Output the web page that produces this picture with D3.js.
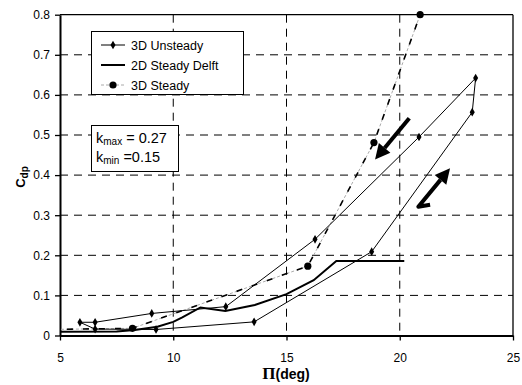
<!DOCTYPE html>
<html><head><meta charset="utf-8">
<script src="https://cdn.jsdelivr.net/npm/d3@7"></script>
<style>
body{margin:0;background:#fff}
svg{display:block;font-family:"Liberation Sans",Arial,sans-serif}
</style>
</head><body>
<svg id="chart" width="522" height="385"></svg>
<script>
// ---- data ----
const xTickValues = [5, 10, 15, 20, 25];
const yTickValues = [0, 0.1, 0.2, 0.3, 0.4, 0.5, 0.6, 0.7, 0.8];
const seriesNames = ["3D Unsteady", "2D Steady Delft", "3D Steady"];

// 3D Unsteady hysteresis loop (lower branch up, upper branch down)
const unsteadyAlpha = [5.88, 6.55, 9.24, 13.57, 18.76, 23.2, 23.35, 20.85, 16.26, 12.32, 9.05, 6.55, 5.88];
const unsteadyCdp   = [0.033, 0.016, 0.015, 0.034, 0.209, 0.557, 0.642, 0.495, 0.240, 0.072, 0.055, 0.033, 0.033];

// 2D Steady Delft
const delftAlpha = [5.0, 7.5, 8.3, 9.3, 10.0, 10.4, 11.2, 12.3, 13.6, 15.0, 16.2, 17.2, 20.2];
const delftCdp   = [0.0095, 0.010, 0.014, 0.022, 0.034, 0.045, 0.070, 0.061, 0.076, 0.103, 0.138, 0.186, 0.186];

// 3D Steady
const steadyAlpha = [4.6, 8.2, 15.94, 18.86, 20.9];
const steadyCdp   = [0.015, 0.018, 0.173, 0.481, 0.80];

// annotation arrows (data coords): [fromAlpha, fromCdp, toAlpha, toCdp]
const arrowDown = [20.42, 0.542, 18.91, 0.439];
const arrowUp   = [20.82, 0.321, 22.22, 0.417];
const arrowUpHook = [21.34, 0.326];

const kLabels = [["k", "max", " = 0.27"], ["k", "min", " =0.15"]];

// ---- layout ----
const svg = d3.select("#chart");
const L = 60, R = 513, T = 14.7, B = 335.5;
const x = d3.scaleLinear().domain([5, 25]).range([L, R]);
const y = d3.scaleLinear().domain([0, 0.8]).range([B, T]);

svg.append("rect").attr("width", 522).attr("height", 385).attr("fill", "#fff");

// grid
const grid = svg.append("g").attr("stroke", "#000").attr("stroke-width", 1).attr("stroke-dasharray", "8,6").attr("fill", "none");
yTickValues.filter(v => v > 0 && v < 0.8).forEach(v => {
  grid.append("line").attr("x1", L).attr("x2", R).attr("y1", y(v)).attr("y2", y(v));
});
xTickValues.filter(v => v > 5 && v < 25).forEach(v => {
  grid.append("line").attr("x1", x(v)).attr("x2", x(v)).attr("y1", T).attr("y2", B);
});

// frame
svg.append("line").attr("x1", L).attr("x2", R).attr("y1", T).attr("y2", T).attr("stroke", "#000").attr("stroke-width", 1.3);
svg.append("line").attr("x1", R).attr("x2", R).attr("y1", T).attr("y2", B).attr("stroke", "#000").attr("stroke-width", 1.3);

// axes
const xAxis = svg.append("g").attr("transform", `translate(0,${B})`)
  .call(d3.axisBottom(x).tickValues(xTickValues).tickFormat(d3.format("d")).tickSize(5).tickPadding(13).tickSizeOuter(0));
const yAxis = svg.append("g").attr("transform", `translate(${L},0)`)
  .call(d3.axisLeft(y).tickValues(yTickValues).tickFormat(d => d === 0 ? "0" : d3.format(".1f")(d)).tickSize(5).tickPadding(5).tickSizeOuter(0));
[xAxis, yAxis].forEach(a => {
  a.select(".domain").attr("stroke", "#000").attr("stroke-width", 2);
  a.selectAll(".tick line").attr("stroke", "#000").attr("stroke-width", 1.3);
  a.selectAll("text").attr("font-family", "'Liberation Sans',Arial,sans-serif").attr("font-size", 12).attr("fill", "#000");
});

// axis titles
const xt = svg.append("text").attr("x", 286).attr("y", 379).attr("text-anchor", "middle")
  .attr("font-weight", "bold").attr("font-size", 14);
xt.append("tspan").attr("font-family", "'Liberation Serif',serif").attr("font-size", 17).text("Π");
xt.append("tspan").text("(deg)");

const yt = svg.append("text").attr("transform", "translate(25,177) rotate(-90)").attr("text-anchor", "middle")
  .attr("font-weight", "bold").attr("font-size", 13);
yt.append("tspan").text("C");
yt.append("tspan").attr("font-size", 10).attr("dy", 3).text("dp");

// clip
svg.append("clipPath").attr("id", "plotclip").append("rect").attr("x", L).attr("y", T - 4).attr("width", R - L).attr("height", B - T + 4);
const plot = svg.append("g").attr("clip-path", "url(#plotclip)");

const line = d3.line().x(d => x(d[0])).y(d => y(d[1]));
const unsteady = unsteadyAlpha.map((a, i) => [a, unsteadyCdp[i]]);
const delft = delftAlpha.map((a, i) => [a, delftCdp[i]]);
const steady = steadyAlpha.map((a, i) => [a, steadyCdp[i]]);

// 3D steady line: grey dashes with black dashes overlaid
plot.append("path").attr("d", line(steady)).attr("fill", "none").attr("stroke", "#aaa").attr("stroke-width", 1).attr("stroke-dasharray", "3,2");
plot.append("path").attr("d", line(steady)).attr("fill", "none").attr("stroke", "#000").attr("stroke-width", 1.6).attr("stroke-dasharray", "6,10");

// 2D Delft
plot.append("path").attr("d", line(delft)).attr("fill", "none").attr("stroke", "#000").attr("stroke-width", 2);

// 3D unsteady
plot.append("path").attr("d", line(unsteady)).attr("fill", "none").attr("stroke", "#000").attr("stroke-width", 1);
const diamond = d3.symbol(d3.symbolDiamond, 22);
plot.selectAll(".um").data(unsteady.slice(0, -1)).join("path")
  .attr("transform", d => `translate(${x(d[0])},${y(d[1])})`).attr("d", diamond).attr("fill", "#000");

plot.selectAll(".sm").data(steady.filter(d => d[0] >= 5)).join("circle")
  .attr("cx", d => x(d[0])).attr("cy", d => y(d[1])).attr("r", 3.6).attr("fill", "#000");

// arrows
function arrow(a, hook) {
  const x1 = x(a[0]), y1 = y(a[1]), x2 = x(a[2]), y2 = y(a[3]);
  const dx = x2 - x1, dy = y2 - y1, len = Math.hypot(dx, dy), ux = dx / len, uy = dy / len;
  const hl = 15, hw = 7.5;
  const bx = x2 - ux * hl, by = y2 - uy * hl;
  let pts = [[x1, y1], [bx, by]];
  if (hook) pts = [[x(hook[0]), y(hook[1])]].concat(pts);
  svg.append("path").attr("d", d3.line()(pts)).attr("fill", "none").attr("stroke", "#000").attr("stroke-width", 4).attr("stroke-linejoin", "round");
  svg.append("path").attr("d", d3.line()([[x2, y2], [bx - uy * hw, by + ux * hw], [bx + uy * hw, by - ux * hw]]) + "Z").attr("fill", "#000");
}
arrow(arrowDown);
arrow(arrowUp, arrowUpHook);

// legend
const lg = svg.append("g");
lg.append("rect").attr("x", 91.5).attr("y", 31.5).attr("width", 152).attr("height", 63).attr("fill", "#fff").attr("stroke", "#000").attr("stroke-width", 1);
const rowsY = [45, 65, 85];
seriesNames.forEach((n, i) => {
  const yy = rowsY[i];
  if (i === 0) {
    lg.append("line").attr("x1", 101).attr("x2", 125).attr("y1", yy).attr("y2", yy).attr("stroke", "#000").attr("stroke-width", 1);
    lg.append("path").attr("transform", `translate(113,${yy})`).attr("d", diamond).attr("fill", "#000");
  } else if (i === 1) {
    lg.append("line").attr("x1", 101).attr("x2", 125).attr("y1", yy).attr("y2", yy).attr("stroke", "#000").attr("stroke-width", 2);
  } else {
    lg.append("line").attr("x1", 101).attr("x2", 125).attr("y1", yy).attr("y2", yy).attr("stroke", "#aaa").attr("stroke-width", 1).attr("stroke-dasharray", "3,2");
    lg.append("circle").attr("cx", 113).attr("cy", yy).attr("r", 3.6).attr("fill", "#000");
  }
  lg.append("text").attr("x", 131).attr("y", yy + 4.5).attr("font-size", 12.5).text(n);
});

// k box
const kg = svg.append("g");
kg.append("rect").attr("x", 91.5).attr("y", 125.5).attr("width", 87).attr("height", 46).attr("fill", "#fff").attr("stroke", "#000").attr("stroke-width", 1);
kLabels.forEach((k, i) => {
  const t = kg.append("text").attr("x", 96).attr("y", 143 + i * 19).attr("font-size", 14.5);
  t.append("tspan").text(k[0]);
  t.append("tspan").attr("font-size", 10).attr("dy", 2).text(k[1]);
  t.append("tspan").attr("dy", -2).text(k[2]);
});
</script>
</body></html>
